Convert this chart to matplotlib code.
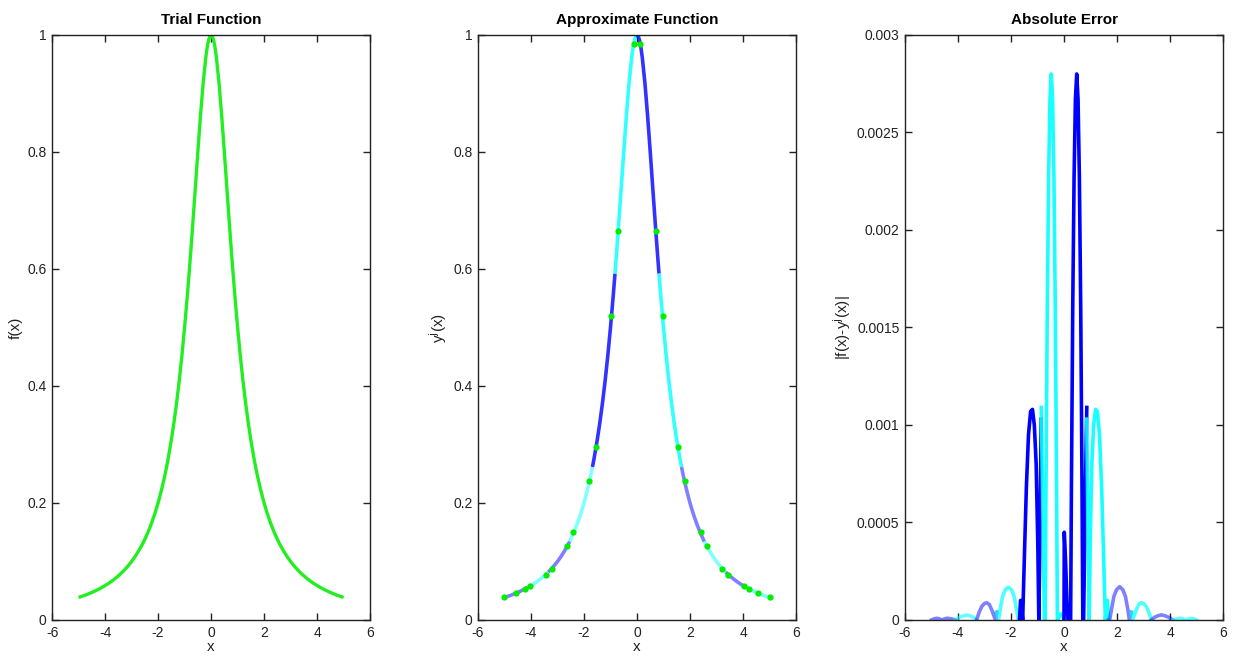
"""Trial function, piecewise approximation and absolute error (three panels)."""

import matplotlib
matplotlib.use("Agg")
import matplotlib.pyplot as plt
from matplotlib.ticker import FormatStrFormatter

plt.rcParams['font.family'] = ['Liberation Sans', 'DejaVu Sans']
plt.rcParams['axes.unicode_minus'] = False

# values (x, f(x))
curve_x = [-5, -4.875, -4.75, -4.625, -4.5, -4.375, -4.25, -4.125, -4.1, -4.0,
           -3.875, -3.75, -3.625, -3.5, -3.375, -3.35, -3.25, -3.125, -3.0, -2.875,
           -2.75, -2.625, -2.54, -2.5, -2.375, -2.25, -2.125, -2.0, -1.875, -1.75,
           -1.68, -1.625, -1.5, -1.4, -1.3, -1.2, -1.1, -1.0, -0.9, -0.83,
           -0.75, -0.7, -0.6, -0.5, -0.4, -0.3, -0.2, -0.15, -0.1, -0.05, 0,
           0.05, 0.1, 0.15, 0.2, 0.3, 0.4, 0.5, 0.6, 0.7, 0.75,
           0.83, 0.9, 1.0, 1.1, 1.2, 1.3, 1.4, 1.5, 1.625, 1.68,
           1.75, 1.875, 2.0, 2.125, 2.25, 2.375, 2.5, 2.54, 2.625, 2.75,
           2.875, 3.0, 3.125, 3.25, 3.35, 3.375, 3.5, 3.625, 3.75, 3.875,
           4.0, 4.1, 4.125, 4.25, 4.375, 4.5, 4.625, 4.75, 4.875, 5]
curve_y = [0.0385, 0.0404, 0.0424, 0.0447, 0.0471, 0.0497, 0.0525, 0.0555, 0.0562, 0.0588,
           0.0624, 0.0664, 0.0707, 0.0755, 0.0807, 0.0818, 0.0865, 0.0929, 0.1000, 0.1079,
           0.1168, 0.1267, 0.1342, 0.1379, 0.1506, 0.1650, 0.1813, 0.2000, 0.2215, 0.2462,
           0.2616, 0.2747, 0.3077, 0.3378, 0.3717, 0.4098, 0.4525, 0.5000, 0.5525, 0.5921,
           0.6400, 0.6711, 0.7353, 0.8000, 0.8621, 0.9174, 0.9615, 0.9780, 0.9901, 0.9975, 1.0,
           0.9975, 0.9901, 0.9780, 0.9615, 0.9174, 0.8621, 0.8000, 0.7353, 0.6711, 0.6400,
           0.5921, 0.5525, 0.5000, 0.4525, 0.4098, 0.3717, 0.3378, 0.3077, 0.2747, 0.2616,
           0.2462, 0.2215, 0.2000, 0.1813, 0.1650, 0.1506, 0.1379, 0.1342, 0.1267, 0.1168,
           0.1079, 0.1000, 0.0929, 0.0865, 0.0818, 0.0807, 0.0755, 0.0707, 0.0664, 0.0624,
           0.0588, 0.0562, 0.0555, 0.0525, 0.0497, 0.0471, 0.0447, 0.0424, 0.0404, 0.0385]

# piece boundaries of the approximation and their colours
piece_edges = [-5, -4.1, -3.35, -2.54, -1.68, -0.83, 0, 0.83, 1.68, 2.54, 3.35, 4.1, 5]
piece_colors = ['blue', 'cyan', 'blue', 'cyan', 'blue', 'cyan',
                'blue', 'cyan', 'blue', 'cyan', 'blue', 'cyan']
piece_alpha = [0.5, 0.5, 0.5, 0.5, 0.8, 0.8, 0.8, 0.8, 0.5, 0.5, 0.5, 0.5]

# interpolation nodes
node_x = [-5.0, -4.58, -4.22, -4.05, -3.45, -3.22, -2.63, -2.4, -1.8, -1.55, -0.97, -0.71, -0.12,
          0.12, 0.71, 0.97, 1.55, 1.8, 2.4, 2.63, 3.22, 3.45, 4.05, 4.22, 4.58, 5.0]
node_y = [0.0385, 0.0455, 0.053, 0.0575, 0.0775, 0.088, 0.127, 0.15, 0.238, 0.296, 0.52, 0.665, 0.985,
          0.985, 0.665, 0.52, 0.296, 0.238, 0.15, 0.127, 0.088, 0.0775, 0.0575, 0.053, 0.0455, 0.0385]

# absolute error, one list per piece
err_x = [
    [-5.0, -4.9, -4.8, -4.7, -4.6, -4.5, -4.4, -4.25, -4.1],
    [-4.1, -3.95, -3.8, -3.67, -3.55, -3.42, -3.3],
    [-3.3, -3.2, -3.1, -3.0, -2.91, -2.82, -2.72, -2.64, -2.58, -2.55, -2.54],
    [-2.54, -2.47, -2.4, -2.32, -2.22, -2.1, -1.98, -1.88, -1.8, -1.72, -1.68],
    [-1.68, -1.64, -1.62, -1.56, -1.5, -1.42, -1.34, -1.26, -1.19, -1.12, -1.05, -0.99,
     -0.95, -0.9, -0.86],
    [-0.86, -0.8, -0.74, -0.71, -0.68, -0.63, -0.58, -0.53, -0.48, -0.43, -0.38, -0.33,
     -0.28, -0.25, -0.12, -0.06, 0],
    [0, 0.01, 0.06, 0.11, 0.15, 0.25, 0.28, 0.33, 0.38, 0.43, 0.48, 0.53, 0.58, 0.63,
     0.68, 0.71, 0.74, 0.8, 0.86],
    [0.86, 0.9, 0.95, 0.99, 1.05, 1.12, 1.19, 1.26, 1.34, 1.42, 1.5, 1.56, 1.62, 1.64, 1.68],
    [1.68, 1.72, 1.8, 1.88, 1.98, 2.1, 2.22, 2.32, 2.4, 2.47, 2.54],
    [2.54, 2.55, 2.58, 2.64, 2.72, 2.82, 2.91, 3.0, 3.1, 3.2, 3.3],
    [3.3, 3.42, 3.55, 3.67, 3.8, 3.95, 4.1],
    [4.1, 4.25, 4.4, 4.5, 4.6, 4.7, 4.8, 4.9, 5.0],
]
err_y = [
    [0, 0.000006, 0.0000085, 0.000006, 0, 0.000006, 0.000009, 0.000006, 0],
    [0, 0.000014, 0.000022, 0.000025, 0.000022, 0.000014, 0],
    [0, 0.00004, 0.00007, 0.000085, 0.000088, 0.00008, 0.00005, 0.00002, 0, 0.00004, 0.00004],
    [0.00004, 0, 0.00006, 0.00012, 0.000155, 0.000168, 0.000155, 0.00012, 0.00006, 0, 0],
    [0, 0.0001, 0.0001, 0, 0.0003, 0.00068, 0.00095, 0.00107, 0.00108, 0.001, 0.0008,
     0.0004, 0, 0.0005, 0.00103],
    [0.00109, 0.0006, 0, 0, 0.00068, 0.00161, 0.00227, 0.00267, 0.0028, 0.00267, 0.00227,
     0.00161, 0.00068, 0, 0.00003, 0.00003, 0],
    [0, 0.00045, 0.0003, 0.0001, 0, 0, 0.00068, 0.00161, 0.00227, 0.00267, 0.0028, 0.00267,
     0.00227, 0.00161, 0.00068, 0, 0, 0.0006, 0.00109],
    [0.00103, 0.0005, 0, 0.0004, 0.0008, 0.001, 0.00108, 0.00107, 0.00095, 0.00068, 0.0003,
     0, 0.0001, 0.0001, 0],
    [0, 0, 0.00006, 0.00012, 0.000155, 0.000171, 0.000155, 0.00012, 0.00006, 0, 0.00004],
    [0.00004, 0.00004, 0, 0.00002, 0.00005, 0.00008, 0.000089, 0.000085, 0.00007, 0.00004, 0],
    [0, 0.000014, 0.000022, 0.000026, 0.000022, 0.000014, 0],
    [0, 0.000006, 0.000009, 0.000006, 0, 0.000006, 0.0000085, 0.000006, 0],
]
err_colors = ['blue', 'cyan', 'blue', 'cyan', 'blue', 'cyan',
              'blue', 'cyan', 'blue', 'cyan', 'blue', 'cyan']
err_alpha = [0.5, 0.6, 0.5, 0.7, 1.0, 0.9, 1.0, 0.9, 0.5, 0.7, 0.5, 0.6]

x_ticks = [-6, -4, -2, 0, 2, 4, 6]
text_color = '#222222'


def style_axes(ax, title, ylabel, ymax, yticks):
    ax.set_xlim(-6, 6)
    ax.set_ylim(0, ymax)
    ax.set_xticks(x_ticks)
    ax.set_yticks(yticks)
    ax.yaxis.set_major_formatter(FormatStrFormatter('%g'))
    ax.tick_params(direction='in', top=True, right=True, length=5, width=1,
                   labelsize=10, colors=text_color, pad=4)
    for sp in ax.spines.values():
        sp.set_color(text_color)
        sp.set_linewidth(1)
    ax.set_title(title, fontsize=11, fontweight='bold', color='black', pad=8)
    ax.set_xlabel('x', fontsize=11, color=text_color, labelpad=0)
    ax.set_ylabel(ylabel, fontsize=11, color=text_color, labelpad=3)


fig = plt.figure(figsize=(12.37, 6.59), dpi=100)
ax1 = fig.add_axes([0.0421, 0.0592, 0.2571, 0.8877])
ax2 = fig.add_axes([0.3864, 0.0592, 0.2571, 0.8877])
ax3 = fig.add_axes([0.7316, 0.0592, 0.2571, 0.8877])

# trial function
ax1.plot(curve_x, curve_y, color='#22ee22', lw=2.4, solid_capstyle='butt')
style_axes(ax1, 'Trial Function', 'f(x)', 1, [0, 0.2, 0.4, 0.6, 0.8, 1])

# piecewise approximation
for i in range(len(piece_colors)):
    lo, hi = piece_edges[i], piece_edges[i + 1]
    px = [x for x in curve_x if lo <= x <= hi]
    py = [y for x, y in zip(curve_x, curve_y) if lo <= x <= hi]
    ax2.plot(px, py, color=piece_colors[i], alpha=piece_alpha[i], lw=2.6,
             solid_capstyle='butt')
ax2.plot(node_x, node_y, 'o', color='#00ee00', ms=4.5, mec='none', zorder=5)
style_axes(ax2, 'Approximate Function', 'y$^{\\mathrm{j}}$(x)', 1, [0, 0.2, 0.4, 0.6, 0.8, 1])

# absolute error
for i in range(len(err_x)):
    ax3.plot(err_x[i], err_y[i], color=err_colors[i], alpha=err_alpha[i], lw=2.6)
style_axes(ax3, 'Absolute Error', '|f(x)-y$^{\\mathrm{j}}$(x)|', 0.003,
           [0, 0.0005, 0.001, 0.0015, 0.002, 0.0025, 0.003])

fig.savefig('out.png', dpi=100)
